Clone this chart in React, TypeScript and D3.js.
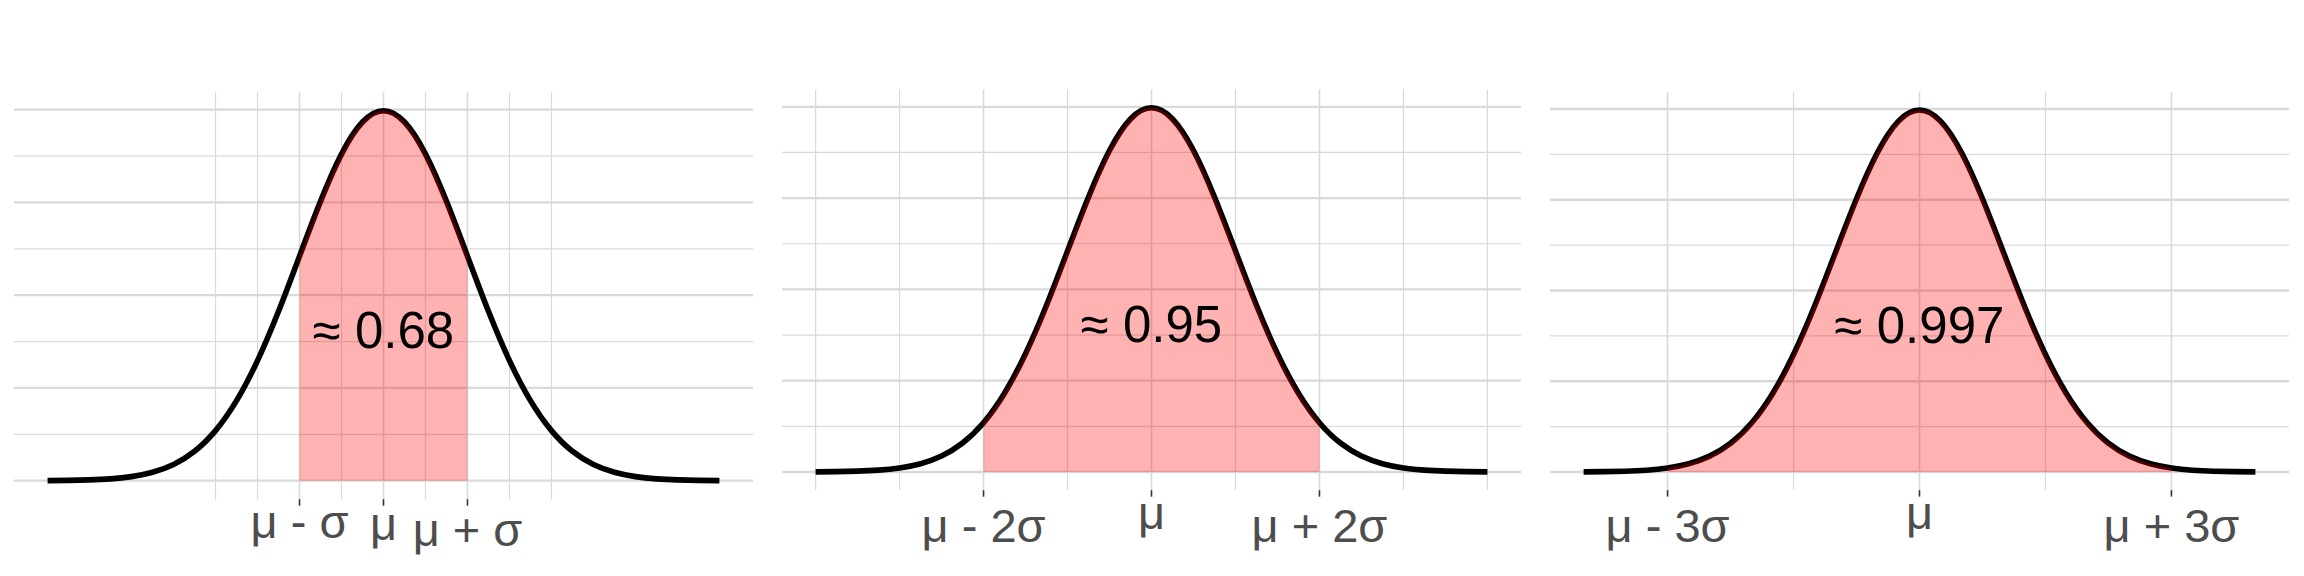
import * as d3 from "d3";

// standard normal curve, read at steps of 0.25 sigma
const xGrid = [
  -4, -3.75, -3.5, -3.25, -3, -2.75, -2.5, -2.25, -2, -1.75, -1.5, -1.25, -1, -0.75, -0.5, -0.25,
  0, 0.25, 0.5, 0.75, 1, 1.25, 1.5, 1.75, 2, 2.25, 2.5, 2.75, 3, 3.25, 3.5, 3.75, 4,
];
const density = [
  0.0001, 0.0004, 0.0009, 0.002, 0.0044, 0.0091, 0.0175, 0.0317, 0.054, 0.0863, 0.1295, 0.1826,
  0.242, 0.3011, 0.3521, 0.3867, 0.3989, 0.3867, 0.3521, 0.3011, 0.242, 0.1826, 0.1295, 0.0863,
  0.054, 0.0317, 0.0175, 0.0091, 0.0044, 0.002, 0.0009, 0.0004, 0.0001,
];

const sigmaBands = [1, 2, 3];
const xBreaks = [
  [-1, 0, 1],
  [-2, 0, 2],
  [-3, 0, 3],
];
const xMinor = [
  [-2, -1.5, -0.5, 0.5, 1.5, 2],
  [-4, -3, -1, 1, 3, 4],
  [-1.5, 1.5],
];
const xLabels = [
  ["μ - σ", "μ", "μ + σ"],
  ["μ - 2σ", "μ", "μ + 2σ"],
  ["μ - 3σ", "μ", "μ + 3σ"],
];
const probLabels = ["≈ 0.68", "≈ 0.95", "≈ 0.997"];
const yMajor = [0, 0.1, 0.2, 0.3, 0.4];
const yMinor = [0.05, 0.15, 0.25, 0.35];

const W = 2304;
const H = 576;
const SLOT = 768;
const panelBox = [
  { top: 92.2, bottom: 499.2 },
  { top: 89.6, bottom: 490.2 },
  { top: 91.9, bottom: 490.1 },
];
// label baseline offsets below the panel
const labelDy = [
  [39, 41, 47],
  [52, 39, 52],
  [52, 39, 52],
];

const gridCol = "#D9D9D9";
const font = "'Liberation Sans', Arial, sans-serif";

const points = xGrid.map((x, i) => ({ x, y: density[i] }));

function Panel({ idx }: { idx: number }) {
  const box = panelBox[idx];
  const k = sigmaBands[idx];

  const xExt = d3.extent(xGrid) as [number, number];
  const xPad = (xExt[1] - xExt[0]) * 0.05;
  const x = d3.scaleLinear().domain([xExt[0] - xPad, xExt[1] + xPad]).range([14, 753]);

  const yMax = d3.max(density) as number;
  const yPad = yMax * 0.05;
  const y = d3.scaleLinear().domain([-yPad, yMax + yPad]).range([box.bottom, box.top]);

  const line = d3
    .line<{ x: number; y: number }>()
    .x((d) => x(d.x))
    .y((d) => y(d.y))
    .curve(d3.curveNatural);

  const area = d3
    .area<{ x: number; y: number }>()
    .x((d) => x(d.x))
    .y0(y(0))
    .y1((d) => y(d.y))
    .curve(d3.curveNatural);

  const band = points.filter((p) => Math.abs(p.x) <= k + 1e-9);

  return (
    <g transform={`translate(${idx * SLOT},0)`}>
      {yMinor.map((v) => (
        <line key={"ym" + v} x1={14} x2={753} y1={y(v)} y2={y(v)} stroke={gridCol} strokeWidth={1.2} />
      ))}
      {xMinor[idx].map((v) => (
        <line key={"xm" + v} x1={x(v)} x2={x(v)} y1={box.top} y2={box.bottom} stroke={gridCol} strokeWidth={1.2} />
      ))}
      {yMajor.map((v) => (
        <line key={"yM" + v} x1={14} x2={753} y1={y(v)} y2={y(v)} stroke={gridCol} strokeWidth={2.3} />
      ))}
      {xBreaks[idx].map((v) => (
        <line key={"xM" + v} x1={x(v)} x2={x(v)} y1={box.top} y2={box.bottom} stroke={gridCol} strokeWidth={1.6} />
      ))}

      <path d={line(points) || ""} fill="none" stroke="#000" strokeWidth={5.6} strokeLinejoin="round" />
      <path d={area(band) || ""} fill="#FF0000" fillOpacity={0.3} />

      {xBreaks[idx].map((v, j) => (
        <g key={"t" + v}>
          <line x1={x(v)} x2={x(v)} y1={box.bottom} y2={box.bottom + 6.5} stroke="#333333" strokeWidth={1.6} />
          <text
            x={x(v)}
            y={box.bottom + labelDy[idx][j]}
            textAnchor="middle"
            fontFamily={font}
            fontSize={47}
            fill="#4D4D4D"
          >
            {xLabels[idx][j]}
          </text>
        </g>
      ))}

      <text
        x={x(0)}
        y={y(0.1625)}
        dy="0.36em"
        textAnchor="middle"
        fontFamily={font}
        fontSize={51}
        fill="#000"
      >
        {probLabels[idx]}
      </text>
    </g>
  );
}

export default function App() {
  return (
    <svg
      width={W}
      height={H}
      style={{ position: "absolute", left: 0, top: 0, display: "block", background: "#fff" }}
    >
      <rect width={W} height={H} fill="#fff" />
      {sigmaBands.map((_, i) => (
        <Panel key={i} idx={i} />
      ))}
    </svg>
  );
}
